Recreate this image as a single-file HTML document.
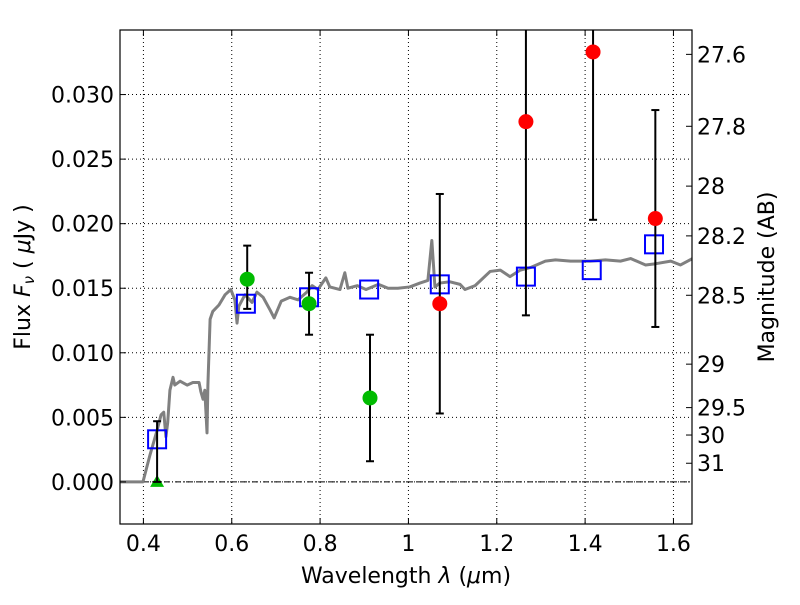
<!DOCTYPE html>
<html><head><meta charset="utf-8"><style>
body{margin:0;background:#fff;font-family:"Liberation Sans","DejaVu Sans",sans-serif}
svg text{font-family:"DejaVu Sans","Liberation Sans",sans-serif}
</style></head><body>
<svg id="chart" width="800" height="600" viewBox="0 0 800 600" xmlns="http://www.w3.org/2000/svg">
<rect width="800" height="600" fill="#fff"/>
<g id="grid"></g>
<g id="marks"></g>
<g id="axes"></g>
<text x="406" y="583" font-size="22" text-anchor="middle">Wavelength  <tspan font-style="italic">λ</tspan> (<tspan font-style="italic">μ</tspan>m)</text>
<text transform="translate(30,277) rotate(-90)" font-size="22" text-anchor="middle">Flux  <tspan font-style="italic">F<tspan font-size="15" dy="4">ν</tspan></tspan><tspan dy="-4">  ( </tspan><tspan font-style="italic">μ</tspan>Jy )</text>
<text transform="translate(774,277) rotate(-90)" font-size="22" text-anchor="middle">Magnitude (AB)</text>
</svg>
<script>
const specLam=[0.347,0.399,0.415,0.431,0.440,0.446,0.451,0.455,0.460,0.467,0.471,0.483,0.499,0.512,0.526,0.530,0.535,0.539,0.544,0.546,0.551,0.557,0.571,0.585,0.598,0.607,0.612,0.616,0.630,0.646,0.657,0.671,0.687,0.696,0.712,0.732,0.750,0.770,0.782,0.795,0.813,0.822,0.845,0.856,0.863,0.884,0.904,0.932,0.954,0.976,1.003,1.026,1.044,1.053,1.060,1.071,1.094,1.117,1.128,1.151,1.185,1.208,1.230,1.253,1.276,1.310,1.333,1.367,1.412,1.446,1.480,1.503,1.537,1.560,1.594,1.616,1.643];
const specFlux=[0,0,0.0021,0.0040,0.0052,0.0054,0.0035,0.0046,0.0071,0.0081,0.0075,0.0078,0.0075,0.0077,0.0077,0.0070,0.0064,0.0071,0.0038,0.0075,0.0126,0.0132,0.0137,0.0145,0.0149,0.0141,0.0123,0.0136,0.0145,0.0139,0.0147,0.0143,0.0133,0.0127,0.0140,0.0143,0.0141,0.0147,0.0152,0.0149,0.0158,0.0151,0.0149,0.0162,0.0150,0.0152,0.0149,0.0153,0.0150,0.0150,0.0151,0.0154,0.0156,0.0187,0.0151,0.0154,0.0155,0.0153,0.0149,0.0152,0.0163,0.0164,0.0159,0.0164,0.0166,0.0171,0.0172,0.0171,0.0171,0.0172,0.0171,0.0173,0.0168,0.0169,0.0171,0.0168,0.0173];
const modelLam=[0.431,0.632,0.775,0.911,1.071,1.266,1.415,1.556];
const modelFlux=[0.0033,0.0138,0.0143,0.0149,0.0153,0.0159,0.0164,0.0184];
const greenLam=[0.635,0.775,0.913];
const greenFlux=[0.0157,0.0138,0.0065];
const greenHi=[0.0183,0.0162,0.0114];
const greenLo=[0.0134,0.0114,0.0016];
const limLam=[0.431];const limFlux=[0];const limHi=[0.0047];const limLo=[0];
const redLam=[1.071,1.266,1.418,1.559];
const redFlux=[0.0138,0.0279,0.0333,0.0204];
const redHi=[0.0223,0.040,0.040,0.0288];
const redLo=[0.0053,0.0129,0.0203,0.0120];
const xTicks=[0.4,0.6,0.8,1.0,1.2,1.4,1.6];
const xTickLabels=["0.4","0.6","0.8","1","1.2","1.4","1.6"];
const yTicks=[0,0.005,0.010,0.015,0.020,0.025,0.030];
const yTickLabels=["0.000","0.005","0.010","0.015","0.020","0.025","0.030"];
const magTicks=[27.6,27.8,28,28.2,28.5,29,29.5,30,31];
const magLabels=["27.6","27.8","28","28.2","28.5","29","29.5","30","31"];

const L=120,R=692,T=30,B=524;
const X0=0.347,X1=1.642,Y0=-0.00326,Y1=0.0350;
const sx=v=>L+(v-X0)/(X1-X0)*(R-L);
const sy=v=>B-(v-Y0)/(Y1-Y0)*(B-T);
const NS="http://www.w3.org/2000/svg";
function mk(tag,attrs,parent){const e=document.createElementNS(NS,tag);for(const k in attrs)e.setAttribute(k,attrs[k]);parent.appendChild(e);return e;}
const grid=document.getElementById('grid'),marks=document.getElementById('marks'),axes=document.getElementById('axes');
const defs=mk('defs',{},marks);const cp=mk('clipPath',{id:'clip'},defs);mk('rect',{x:L,y:T,width:R-L,height:B-T},cp);
const g=mk('g',{'clip-path':'url(#clip)'},marks);
xTicks.forEach((t,i)=>{
 const gl=mk('line',{x1:sx(t),x2:sx(t),y1:T,y2:B,stroke:'#000','stroke-width':1,'stroke-dasharray':'1,3'},grid);
 
 
 mk('line',{x1:sx(t),x2:sx(t),y1:B,y2:B-6,stroke:'#000'},axes);
 mk('line',{x1:sx(t),x2:sx(t),y1:T,y2:T+6,stroke:'#000'},axes);
 const tx=mk('text',{x:sx(t),y:B+27,'font-size':22,'text-anchor':'middle'},axes);tx.textContent=xTickLabels[i];
 
 
});
yTicks.forEach((t,i)=>{
 const gl=mk('line',{x1:L,x2:R,y1:sy(t),y2:sy(t),stroke:'#000','stroke-width':1,'stroke-dasharray':'1,3'},grid);
 
 
 mk('line',{x1:L,x2:L+6,y1:sy(t),y2:sy(t),stroke:'#000'},axes);
 const tx=mk('text',{x:L-6,y:sy(t)+8,'font-size':22,'text-anchor':'end'},axes);tx.textContent=yTickLabels[i];
 
 
});
magTicks.forEach((m,i)=>{
 const f=Math.pow(10,(23.9-m)/2.5);
 mk('line',{x1:R,x2:R-6,y1:sy(f),y2:sy(f),stroke:'#000'},axes);
 const tx=mk('text',{x:R+5,y:sy(f)+8,'font-size':22},axes);tx.textContent=magLabels[i];
 
 
});
const zl=mk('line',{x1:L,x2:R,y1:sy(0),y2:sy(0),stroke:'#000','stroke-width':1,'stroke-dasharray':'6,2,1,2'},g);


const sp=mk('polyline',{points:specLam.map((l,i)=>sx(l)+','+sy(specFlux[i])).join(' '),fill:'none',stroke:'#808080','stroke-width':3,'stroke-linejoin':'round'},g);


function ebar(l,lo,hi){
 const e=mk('g',{stroke:'#000','stroke-width':2},g);
 
 
 mk('line',{x1:sx(l),x2:sx(l),y1:sy(lo),y2:sy(hi)},e);
 mk('line',{x1:sx(l)-4,x2:sx(l)+4,y1:sy(lo),y2:sy(lo)},e);
 mk('line',{x1:sx(l)-4,x2:sx(l)+4,y1:sy(hi),y2:sy(hi)},e);
}
modelLam.forEach((l,i)=>{
 const r=mk('rect',{x:sx(l)-9,y:sy(modelFlux[i])-9,width:18,height:18,fill:'none',stroke:'#0000ff','stroke-width':2},g);
 
 
});
greenLam.forEach((l,i)=>{
 ebar(l,greenLo[i],greenHi[i]);
 const c=mk('circle',{cx:sx(l),cy:sy(greenFlux[i]),r:7.5,fill:'#00bb00'},g);
 
 
});
limLam.forEach((l,i)=>{
 const x=sx(l),y=sy(limFlux[i]);
 const p=mk('polygon',{points:`${x},${y-7} ${x-7},${y+5} ${x+7},${y+5}`,fill:'#00bb00'},g);
 
 
 ebar(l,limLo[i],limHi[i]);
});
redLam.forEach((l,i)=>{
 ebar(l,redLo[i],redHi[i]);
 const c=mk('circle',{cx:sx(l),cy:sy(redFlux[i]),r:7.5,fill:'#ff0000'},g);
 
 
});
const fr=mk('rect',{x:L,y:T,width:R-L,height:B-T,fill:'none',stroke:'#000','stroke-width':1.2},axes);


</script>
</body></html>
